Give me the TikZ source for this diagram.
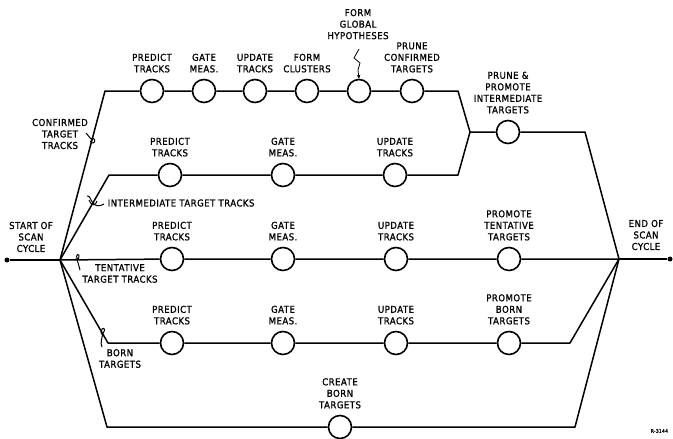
\documentclass[tikz,border=0pt]{standalone}
\usepackage{fontspec}
\setmainfont{DejaVu Sans}[FakeStretch=0.9, FakeBold=1.2, LetterSpace=5]
\usetikzlibrary{arrows.meta}
\begin{document}
\begin{tikzpicture}[x=1pt,y=-1pt, line width=1.5pt, line join=round,
  proc/.style={circle, draw, minimum size=23pt, inner sep=0pt, line width=1.6pt},
  lbl/.style={font=\fontsize{9.5}{11.5}\selectfont, align=center, inner sep=0pt},
  abv/.style={lbl, anchor=south, yshift=5.5pt},
  hook/.style={line width=1pt},
  dotn/.style={circle, fill, inner sep=0pt, minimum size=5pt}]
\clip (0,0) rectangle (673,439);
% junctions
\coordinate (S) at (60,260);
\coordinate (E) at (619,259);
\node[dotn] (Sdot) at (7,260) {};
\node[dotn] (Edot) at (670,259) {};
% row 1: confirmed
\coordinate (k1a) at (105,91);
\coordinate (k1b) at (458,91);
\node[proc] (c1a) at (152,91) {};
\node[proc] (c1b) at (204,91) {};
\node[proc] (c1c) at (255,91) {};
\node[proc] (c1d) at (307,91) {};
\node[proc] (c1e) at (359,91) {};
\node[proc] (c1f) at (412,91) {};
\node[abv] (l1a) at (c1a.north) {PREDICT\\TRACKS};
\node[abv] (l1b) at (c1b.north) {GATE\\MEAS.};
\node[abv] (l1c) at (c1c.north) {UPDATE\\TRACKS};
\node[abv] (l1d) at (c1d.north) {FORM\\CLUSTERS};
\node[lbl, anchor=south] (l1e) at (358,40) {FORM\\GLOBAL\\HYPOTHESES};
\node[abv] (l1f) at (c1f.north) {PRUNE\\CONFIRMED\\TARGETS};
% junction of rows 1 and 2
\coordinate (J1) at (470,132);
\node[proc] (cP) at (508,132) {};
\node[abv] (lP) at (cP.north) {PRUNE \&\\PROMOTE\\INTERMEDIATE\\TARGETS};
\coordinate (k1c) at (585,132);
% row 2: intermediate
\coordinate (k2a) at (109,175);
\coordinate (k2b) at (458,175);
\node[proc] (c2a) at (170,175) {};
\node[proc] (c2b) at (283,175) {};
\node[proc] (c2c) at (395,175) {};
\node[abv] (l2a) at (c2a.north) {PREDICT\\TRACKS};
\node[abv] (l2b) at (c2b.north) {GATE\\MEAS.};
\node[abv] (l2c) at (c2c.north) {UPDATE\\TRACKS};
% row 3: tentative
\node[proc] (c3a) at (172,259) {};
\node[proc] (c3b) at (283,259) {};
\node[proc] (c3c) at (396,259) {};
\node[proc] (c3d) at (509,259) {};
\node[abv] (l3a) at (c3a.north) {PREDICT\\TRACKS};
\node[abv] (l3b) at (c3b.north) {GATE\\MEAS.};
\node[abv] (l3c) at (c3c.north) {UPDATE\\TRACKS};
\node[abv] (l3d) at (c3d.north) {PROMOTE\\TENTATIVE\\TARGETS};
% row 4: born
\coordinate (k4a) at (108,343);
\coordinate (k4b) at (570,343);
\node[proc] (c4a) at (172,343) {};
\node[proc] (c4b) at (283,343) {};
\node[proc] (c4c) at (396,343) {};
\node[proc] (c4d) at (509,343) {};
\node[abv] (l4a) at (c4a.north) {PREDICT\\TRACKS};
\node[abv] (l4b) at (c4b.north) {GATE\\MEAS.};
\node[abv] (l4c) at (c4c.north) {UPDATE\\TRACKS};
\node[abv] (l4d) at (c4d.north) {PROMOTE\\BORN\\TARGETS};
% row 5: create born
\coordinate (k5a) at (107,427);
\coordinate (k5b) at (575,427);
\node[proc] (c5a) at (340,427) {};
\node[abv] (l5a) at (c5a.north) {CREATE\\BORN\\TARGETS};
% connectors
\draw (Sdot) -- (S);
\draw (E) -- (Edot);
\draw (S) -- (k1a) -- (c1a) -- (c1b) -- (c1c) -- (c1d) -- (c1e) -- (c1f) -- (k1b) -- (J1);
\draw (S) -- (k2a) -- (c2a) -- (c2b) -- (c2c) -- (k2b) -- (J1);
\draw (J1) -- (cP) -- (k1c) -- (E);
\draw (S) -- (c3a) -- (c3b) -- (c3c) -- (c3d) -- (E);
\draw (S) -- (k4a) -- (c4a) -- (c4b) -- (c4c) -- (c4d) -- (k4b) -- (E);
\draw (S) -- (k5a) -- (c5a) -- (k5b) -- (E);
% text labels
\node[lbl] (lstart) at (31,237) {START OF\\SCAN\\CYCLE};
\node[lbl] (lend) at (646,235) {END OF\\SCAN\\CYCLE};
\node[lbl] (lconf) at (60,134) {CONFIRMED\\TARGET\\TRACKS};
\node[lbl, anchor=west] (linter) at (107,203) {INTERMEDIATE TARGET TRACKS};
\node[lbl] (ltent) at (120,273.5) {TENTATIVE\\TARGET TRACKS};
\node[lbl] (lborn) at (120,358.5) {BORN\\TARGETS};
\node[font=\fontsize{5}{6}\selectfont, anchor=west, inner sep=0pt] (rnum) at (650,431) {R-3144};
% leader hooks
\coordinate (h1) at (92,140);
\draw[hook] (86,133) -- (91,139) .. controls (95,136) and (96,143) .. (93,143) .. controls (90,143) and (90,140) .. (h1);
\coordinate (h2) at (93,203);
\draw[hook] (87,196) .. controls (90,195) and (91,201) .. (h2) .. controls (95,206) and (99,207) .. (104,204);
\draw[hook] (89,200) .. controls (91,206) and (96,206) .. (97,201);
\coordinate (h3) at (77,259);
\draw[hook] (80,270) .. controls (79,266) and (78,263) .. (h3) .. controls (75,254) and (80,253) .. (79,257) .. controls (78,260) and (76,261) .. (75,259);
\coordinate (h4) at (103,333);
\draw[hook] (102,347) .. controls (100,343) and (102,338) .. (h4) .. controls (106,330) and (104,327) .. (102,329) .. controls (100,331) and (101,334) .. (103,336);
% squiggle arrow to form global hypotheses
\draw[line width=0.8pt, -{Stealth[length=4pt,width=3.5pt]}] (359,49) -- (354,58) -- (360,63) -- (358,70) -- (c1e.north);
\end{tikzpicture}
\end{document}
